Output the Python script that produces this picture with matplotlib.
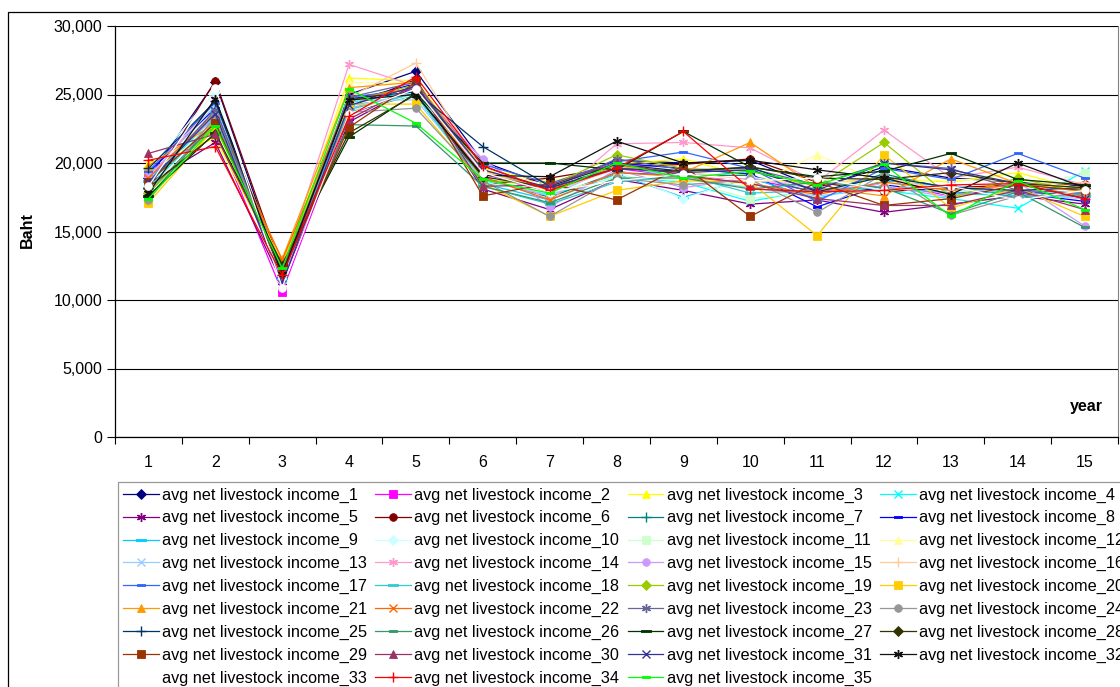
import matplotlib
matplotlib.use("Agg")
import matplotlib.pyplot as plt
from matplotlib.patches import Rectangle
from matplotlib.ticker import FuncFormatter, MultipleLocator, FixedLocator
import numpy as np

plt.rcParams['font.family'] = ['Liberation Sans', 'DejaVu Sans']

years = list(range(1, 16))
series_prefix = "avg net livestock income_"

# Average net livestock income (Baht) per scenario, years 1..15
income_1 = [18900, 25900, 11800, 25000, 26700, 20100, 18300, 20200, 20000, 20200, 18200, 19700, 18900, 18600, 18300]
income_2 = [19000, 22400, 10600, 23500, 25500, 19200, 17900, 19600, 19000, 18800, 17900, 18500, 17600, 18000, 17500]
income_3 = [20000, 21800, 12300, 26200, 26000, 19600, 18600, 19900, 20300, 19000, 18400, 18900, 18600, 19300, 18000]
income_4 = [18400, 23500, 11500, 24400, 25200, 18700, 17700, 19000, 18600, 17200, 18100, 18000, 17400, 16700, 19400]
income_5 = [18500, 21500, 11300, 23000, 25600, 18100, 16600, 18800, 18000, 17000, 17300, 16400, 17000, 17600, 17000]
income_6 = [18100, 26000, 12200, 24100, 26100, 18400, 18900, 19700, 19900, 20300, 18600, 17900, 18200, 18400, 18500]
income_7 = [17800, 23000, 12000, 23700, 25000, 18900, 17500, 19300, 19100, 19100, 17800, 19200, 18100, 17900, 17600]
income_8 = [19300, 24000, 11900, 24500, 25800, 19800, 18000, 20000, 19600, 19200, 16800, 18400, 17900, 17800, 17200]
income_9 = [18700, 23800, 11600, 24200, 24900, 18500, 17300, 19200, 17500, 18900, 17400, 18700, 18300, 17500, 17800]
income_10 = [19500, 25200, 11400, 24000, 25300, 19000, 18200, 19400, 17400, 19000, 18100, 18500, 17900, 18100, 17900]
income_11 = [18000, 23300, 11800, 23800, 25000, 18600, 17800, 19000, 18700, 17400, 17900, 19000, 17600, 17900, 19300]
income_12 = [19200, 22600, 12400, 25900, 25800, 19400, 18400, 19700, 19300, 18300, 20600, 18500, 18800, 18700, 18200]
income_13 = [19000, 24200, 11700, 24600, 24600, 18800, 17600, 19800, 18900, 18200, 17600, 18100, 18400, 17700, 17400]
income_14 = [18800, 24600, 12100, 27200, 25600, 20200, 17200, 21400, 21500, 21100, 18600, 22400, 18900, 19700, 18400]
income_15 = [19200, 23300, 11400, 24000, 25100, 20300, 16800, 19500, 18200, 18900, 18100, 18300, 17500, 18600, 15400]
income_16 = [17300, 22800, 12600, 24800, 27300, 19400, 17900, 19600, 19400, 18700, 18500, 18900, 18000, 18400, 18600]
income_17 = [19400, 24400, 11900, 24800, 25400, 19900, 18500, 20100, 20800, 19600, 17200, 19600, 18800, 20700, 18900]
income_18 = [18200, 23200, 12000, 23900, 25100, 18300, 17000, 18600, 19100, 17800, 18000, 18200, 17800, 17600, 17600]
income_19 = [17800, 22800, 12400, 24500, 25700, 18800, 18300, 20600, 19600, 19400, 18300, 21500, 17500, 18900, 17800]
income_20 = [17100, 22600, 12700, 24300, 24300, 18500, 16100, 18000, 18700, 18600, 14700, 20600, 16700, 18200, 16100]
income_21 = [19800, 22900, 13000, 25500, 25900, 19500, 18000, 19800, 19300, 21500, 18200, 17600, 20300, 18500, 17900]
income_22 = [18900, 23700, 12900, 24600, 25500, 19000, 17300, 19300, 19000, 18500, 17700, 18600, 18000, 18400, 17600]
income_23 = [18400, 23900, 11900, 24800, 25900, 19200, 18100, 20300, 19500, 19600, 18400, 20000, 19600, 18000, 17800]
income_24 = [17300, 23400, 12200, 23700, 24000, 18700, 16100, 18900, 18400, 18800, 16400, 19200, 16200, 17600, 17700]
income_25 = [19600, 24500, 11700, 24700, 25200, 21200, 18300, 19900, 19400, 19700, 17900, 19000, 18200, 18000, 18200]
income_26 = [17500, 23000, 12100, 22800, 22700, 18300, 17100, 18900, 18900, 18100, 18600, 18200, 16300, 17900, 15300]
income_27 = [17600, 22200, 12600, 21900, 25100, 20000, 20000, 19500, 22300, 19700, 19000, 19400, 20700, 18800, 18400]
income_28 = [18200, 22100, 12500, 22200, 25000, 19000, 18200, 19600, 19400, 19700, 18900, 18800, 19300, 18500, 18200]
income_29 = [18600, 22900, 12000, 22600, 25900, 17600, 18500, 17300, 19800, 16100, 18600, 16900, 17400, 18400, 18000]
income_30 = [20700, 22100, 12300, 23200, 25700, 18300, 18400, 20000, 19100, 18500, 17400, 16900, 16900, 18000, 16600]
income_31 = [18600, 23600, 11200, 24200, 25600, 19500, 18200, 19600, 19300, 19500, 18000, 20000, 19500, 18500, 17400]
income_32 = [17800, 24700, 11900, 24600, 25000, 19100, 19000, 21600, 20000, 20200, 19500, 18900, 17700, 20000, 18200]
income_33 = [18300, 25500, 10900, 23600, 25400, 19300, 17900, 18700, 19200, 18700, 18900, 18000, 18300, 17300, 18000]
income_34 = [20200, 21200, 11800, 23400, 26300, 19800, 18000, 19600, 22300, 18100, 17900, 18000, 18400, 18500, 17400]
income_35 = [17400, 22700, 12300, 25400, 22900, 18800, 17800, 20000, 18900, 19400, 18400, 19900, 16100, 18700, 16600]

all_series = [income_1, income_2, income_3, income_4, income_5, income_6, income_7,
              income_8, income_9, income_10, income_11, income_12, income_13, income_14,
              income_15, income_16, income_17, income_18, income_19, income_20, income_21,
              income_22, income_23, income_24, income_25, income_26, income_27, income_28,
              income_29, income_30, income_31, income_32, income_33, income_34, income_35]

# Classic spreadsheet series palette
colors = ['#000080', '#FF00FF', '#FFFF00', '#00FFFF', '#800080', '#800000', '#008080',
          '#0000FF', '#00CCFF', '#CCFFFF', '#CCFFCC', '#FFFF99', '#99CCFF', '#FF99CC',
          '#CC99FF', '#FFCC99', '#3366FF', '#33CCCC', '#99CC00', '#FFCC00', '#FF9900',
          '#FF6600', '#666699', '#969696', '#003366', '#339966', '#003300', '#333300',
          '#993300', '#993366', '#333399', '#111111', '#FFFFFF', '#FF0000', '#00FF00']

# Marker cycle: diamond, square, triangle, x, asterisk, circle, plus, short dash, long dash
short_dash = [(-1, -0.3), (1, -0.3), (1, 0.3), (-1, 0.3), (-1, -0.3)]
long_dash = [(-1, -0.22), (1, -0.22), (1, 0.22), (-1, 0.22), (-1, -0.22)]
marker_cycle = [('D', 4.6, True), ('s', 5.2, True), ('^', 6.0, True), ('x', 5.5, False),
                ((6, 2, 0), 6.5, False), ('o', 5.5, True), ('+', 7.0, False),
                (short_dash, 6.0, True), (long_dash, 7.5, True)]

W, H = 1120, 687
fig = plt.figure(figsize=(W / 100, H / 100), dpi=100)

# chart-area border
fig.patches.append(Rectangle((8 / W, -0.2), 1.2, 1 - 12 / H + 0.2, transform=fig.transFigure,
                             fill=False, edgecolor='black', linewidth=0.9, zorder=0))

ax = fig.add_axes([115 / W, 1 - 437 / H, (1118 - 115) / W, (437 - 26) / H])

handles = []
for i, (vals, col) in enumerate(zip(all_series, colors)):
    mk, ms, filled = marker_cycle[i % 9]
    kw = dict(color=col, linewidth=0.9, marker=mk, markersize=ms,
              markeredgecolor=col, markeredgewidth=1.0 if not filled else 0.6)
    if filled:
        kw['markerfacecolor'] = col
    line, = ax.plot(years, vals, label=series_prefix + str(i + 1), **kw)
    handles.append(line)

ax.set_xlim(0.5, 15.5)
ax.set_ylim(0, 30000)
ax.yaxis.set_major_locator(MultipleLocator(5000))
ax.yaxis.set_major_formatter(FuncFormatter(lambda v, p: f"{int(v):,}"))
ax.set_xticks(years)
ax.set_xticklabels([str(y) for y in years])
ax.xaxis.set_minor_locator(FixedLocator(np.arange(0.5, 16, 1)))
ax.tick_params(axis='x', which='major', length=0, pad=13, labelsize=11.5)
ax.tick_params(axis='x', which='minor', length=5, width=0.8, direction='out')
ax.tick_params(axis='y', which='major', length=6, width=0.8, direction='out', pad=3, labelsize=11.5)
ax.grid(axis='y', color='black', linewidth=0.8)
ax.set_axisbelow(True)
ax.spines['top'].set_visible(False)
ax.spines['right'].set_color('#808080')
ax.spines['right'].set_linewidth(0.8)
ax.spines['left'].set_linewidth(0.9)
ax.spines['bottom'].set_linewidth(0.9)

ax.set_ylabel('Baht', fontsize=11.5, fontweight='bold')
ax.yaxis.set_label_coords(-80 / (1118 - 115), (437 - 230) / (437 - 26))
ax.text(0.985, 0.075, 'year', transform=ax.transAxes, fontsize=11.5, fontweight='bold',
        ha='right', va='center')

# legend laid out row by row, four entries per row
order = []
for c in range(4):
    order.extend(range(c, 35, 4))
leg = fig.legend([handles[k] for k in order], [handles[k].get_label() for k in order],
                 loc='upper left', bbox_to_anchor=(118 / W, 1 - 482 / H), ncol=4,
                 fontsize=11.7, frameon=True, fancybox=False, edgecolor='#808080',
                 borderpad=0.33, borderaxespad=0, handlelength=2.2, handletextpad=0.2,
                 columnspacing=0.5, labelspacing=0.48)
leg.get_frame().set_linewidth(0.9)

fig.savefig('out.png', dpi=100)
